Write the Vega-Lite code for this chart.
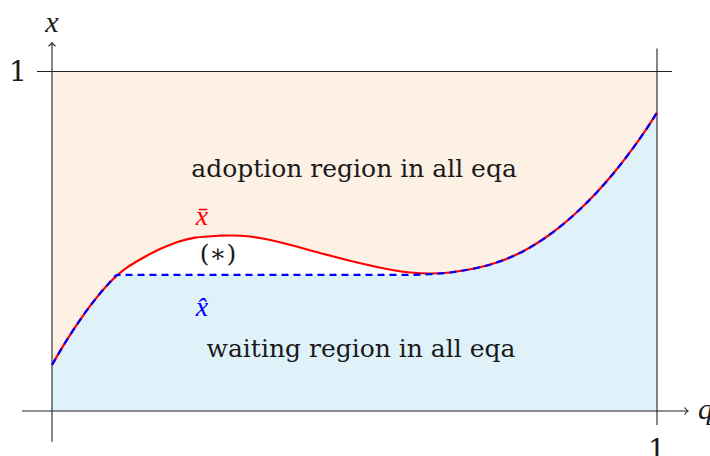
{
  "$schema": "https://vega.github.io/schema/vega-lite/v6.json",
  "width": 710,
  "height": 456,
  "padding": 0,
  "autosize": {"type": "none"},
  "background": "white",
  "config": {"view": {"stroke": null}},
  "datasets": {
    "curve": [
      {"q": 0.0, "xbar": 0.1355, "xhat": 0.1355},
      {"q": 0.016, "xbar": 0.1843, "xhat": 0.1843},
      {"q": 0.0326, "xbar": 0.2316, "xhat": 0.2316},
      {"q": 0.0491, "xbar": 0.2753, "xhat": 0.2753},
      {"q": 0.0711, "xbar": 0.3281, "xhat": 0.3281},
      {"q": 0.0931, "xbar": 0.3743, "xhat": 0.3743},
      {"q": 0.1086, "xbar": 0.401, "xhat": 0.401},
      {"q": 0.1261, "xbar": 0.425, "xhat": 0.401},
      {"q": 0.1537, "xbar": 0.4545, "xhat": 0.401},
      {"q": 0.1813, "xbar": 0.4792, "xhat": 0.401},
      {"q": 0.2088, "xbar": 0.4987, "xhat": 0.401},
      {"q": 0.2364, "xbar": 0.5105, "xhat": 0.401},
      {"q": 0.2777, "xbar": 0.5163, "xhat": 0.401},
      {"q": 0.2992, "xbar": 0.5169, "xhat": 0.401},
      {"q": 0.319, "xbar": 0.5155, "xhat": 0.401},
      {"q": 0.3438, "xbar": 0.5096, "xhat": 0.401},
      {"q": 0.3884, "xbar": 0.4919, "xhat": 0.401},
      {"q": 0.443, "xbar": 0.4654, "xhat": 0.401},
      {"q": 0.4975, "xbar": 0.4404, "xhat": 0.401},
      {"q": 0.5537, "xbar": 0.4183, "xhat": 0.401},
      {"q": 0.5917, "xbar": 0.408, "xhat": 0.401},
      {"q": 0.6248, "xbar": 0.405, "xhat": 0.403},
      {"q": 0.6579, "xbar": 0.408, "xhat": 0.408},
      {"q": 0.7074, "xbar": 0.4234, "xhat": 0.4234},
      {"q": 0.735, "xbar": 0.4372, "xhat": 0.4372},
      {"q": 0.7625, "xbar": 0.4564, "xhat": 0.4564},
      {"q": 0.7901, "xbar": 0.4818, "xhat": 0.4818},
      {"q": 0.8177, "xbar": 0.5133, "xhat": 0.5133},
      {"q": 0.8451, "xbar": 0.5506, "xhat": 0.5506},
      {"q": 0.8727, "xbar": 0.5942, "xhat": 0.5942},
      {"q": 0.9003, "xbar": 0.6439, "xhat": 0.6439},
      {"q": 0.9278, "xbar": 0.6995, "xhat": 0.6995},
      {"q": 0.9554, "xbar": 0.7624, "xhat": 0.7624},
      {"q": 0.983, "xbar": 0.832, "xhat": 0.832},
      {"q": 1.0, "xbar": 0.8788, "xhat": 0.8788}
    ],
    "lines": [
      {"name": "q axis", "q1": -0.0496, "q2": 1.0512, "x1": 0, "x2": 0},
      {"name": "x axis", "q1": 0, "q2": 0, "x1": -0.0904, "x2": 1.0848},
      {"name": "x=1", "q1": -0.0248, "q2": 1.0248, "x1": 1, "x2": 1},
      {"name": "q=1", "q1": 1, "q2": 1, "x1": -0.041, "x2": 1.068}
    ],
    "arrows": [
      {"dir": "right", "q": 1.0512, "x": 0},
      {"dir": "up", "q": 0, "x": 1.0848}
    ],
    "regionText": [
      {"text": "adoption region in all eqa", "q": 0.4992, "x": 0.69},
      {"text": "waiting region in all eqa", "q": 0.5107, "x": 0.16},
      {"text": "(∗)", "q": 0.2744, "x": 0.439}
    ],
    "ticks": [
      {"text": "1", "q": -0.0562, "x": 0.972},
      {"text": "1", "q": 1.0, "x": -0.141}
    ],
    "axisTitles": [
      {"text": "x", "q": 0.0, "x": 1.1172, "align": "center"},
      {"text": "q", "q": 1.0678, "x": -0.0236, "align": "left"}
    ],
    "curveNames": [
      {"text": "x̄", "series": "bar", "q": 0.248, "x": 0.548},
      {"text": "x̂", "series": "hat", "q": 0.248, "x": 0.28}
    ]
  },
  "layer": [
    {
      "data": {"name": "curve"},
      "mark": {"type": "area", "interpolate": "catmull-rom", "color": "#FDF1E5"},
      "encoding": {
        "x": {"field": "q", "type": "quantitative", "axis": null, "scale": {"domain": [-0.08595, 1.0876], "nice": false, "zero": false}},
        "y": {"field": "xbar", "type": "quantitative", "axis": null, "scale": {"domain": [-0.13255, 1.21061], "nice": false, "zero": false}},
        "y2": {"datum": 1}
      }
    },
    {
      "data": {"name": "curve"},
      "mark": {"type": "area", "interpolate": "monotone", "color": "#DFF2FA"},
      "encoding": {
        "x": {"field": "q", "type": "quantitative"},
        "y": {"field": "xhat", "type": "quantitative"},
        "y2": {"datum": 0}
      }
    },
    {
      "data": {"name": "lines"},
      "mark": {"type": "rule", "color": "#222222", "strokeWidth": 1.1},
      "encoding": {
        "x": {"field": "q1", "type": "quantitative"},
        "x2": {"field": "q2"},
        "y": {"field": "x1", "type": "quantitative"},
        "y2": {"field": "x2"}
      }
    },
    {
      "data": {"name": "arrows"},
      "transform": [{"filter": "datum.dir === 'right'"}],
      "mark": {"type": "point", "shape": "M -1 -1 Q -0.3 -0.15 0 0 Q -0.3 0.15 -1 1", "filled": false, "stroke": "#222222", "strokeWidth": 1.1, "size": 49, "opacity": 1},
      "encoding": {
        "x": {"field": "q", "type": "quantitative"},
        "y": {"field": "x", "type": "quantitative"}
      }
    },
    {
      "data": {"name": "arrows"},
      "transform": [{"filter": "datum.dir === 'up'"}],
      "mark": {"type": "point", "shape": "M -1 1 Q -0.15 0.3 0 0 Q 0.15 0.3 1 1", "filled": false, "stroke": "#222222", "strokeWidth": 1.1, "size": 49, "opacity": 1},
      "encoding": {
        "x": {"field": "q", "type": "quantitative"},
        "y": {"field": "x", "type": "quantitative"}
      }
    },
    {
      "data": {"name": "curve"},
      "mark": {"type": "line", "interpolate": "catmull-rom", "color": "#FF0000", "strokeWidth": 2.2},
      "encoding": {
        "x": {"field": "q", "type": "quantitative"},
        "y": {"field": "xbar", "type": "quantitative"}
      }
    },
    {
      "data": {"name": "curve"},
      "mark": {"type": "line", "interpolate": "monotone", "color": "#0000FF", "strokeWidth": 2.2, "strokeDash": [7, 5]},
      "encoding": {
        "x": {"field": "q", "type": "quantitative"},
        "y": {"field": "xhat", "type": "quantitative"}
      }
    },
    {
      "data": {"name": "regionText"},
      "mark": {"type": "text", "font": "DejaVu Serif", "fontSize": 25, "color": "#1a1a1a", "align": "center", "baseline": "alphabetic"},
      "encoding": {
        "x": {"field": "q", "type": "quantitative"},
        "y": {"field": "x", "type": "quantitative"},
        "text": {"field": "text"}
      }
    },
    {
      "data": {"name": "ticks"},
      "mark": {"type": "text", "font": "DejaVu Serif", "fontSize": 28, "color": "#1a1a1a", "align": "center", "baseline": "alphabetic"},
      "encoding": {
        "x": {"field": "q", "type": "quantitative"},
        "y": {"field": "x", "type": "quantitative"},
        "text": {"field": "text"}
      }
    },
    {
      "data": {"name": "axisTitles"},
      "transform": [{"filter": "datum.align === 'center'"}],
      "mark": {"type": "text", "font": "serif", "fontStyle": "italic", "fontSize": 30, "color": "#1a1a1a", "align": "center", "baseline": "alphabetic"},
      "encoding": {
        "x": {"field": "q", "type": "quantitative"},
        "y": {"field": "x", "type": "quantitative"},
        "text": {"field": "text"}
      }
    },
    {
      "data": {"name": "axisTitles"},
      "transform": [{"filter": "datum.align === 'left'"}],
      "mark": {"type": "text", "font": "serif", "fontStyle": "italic", "fontSize": 30, "color": "#1a1a1a", "align": "left", "baseline": "alphabetic"},
      "encoding": {
        "x": {"field": "q", "type": "quantitative"},
        "y": {"field": "x", "type": "quantitative"},
        "text": {"field": "text"}
      }
    },
    {
      "data": {"name": "curveNames"},
      "transform": [{"filter": "datum.series === 'bar'"}],
      "mark": {"type": "text", "font": "serif", "fontStyle": "italic", "fontSize": 28, "color": "#FF0000", "align": "center", "baseline": "alphabetic"},
      "encoding": {
        "x": {"field": "q", "type": "quantitative"},
        "y": {"field": "x", "type": "quantitative"},
        "text": {"field": "text"}
      }
    },
    {
      "data": {"name": "curveNames"},
      "transform": [{"filter": "datum.series === 'hat'"}],
      "mark": {"type": "text", "font": "serif", "fontStyle": "italic", "fontSize": 28, "color": "#0000FF", "align": "center", "baseline": "alphabetic"},
      "encoding": {
        "x": {"field": "q", "type": "quantitative"},
        "y": {"field": "x", "type": "quantitative"},
        "text": {"field": "text"}
      }
    }
  ]
}
